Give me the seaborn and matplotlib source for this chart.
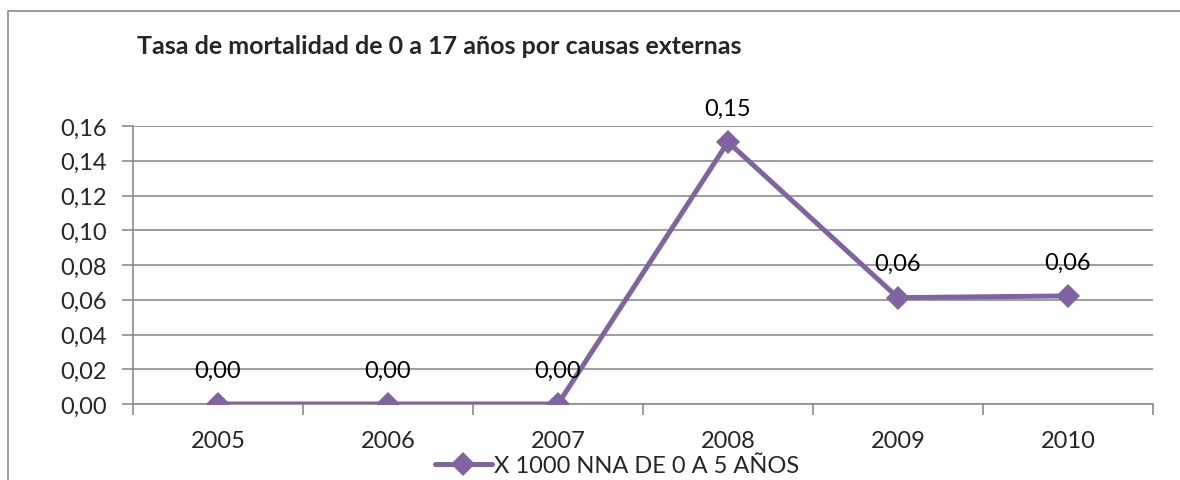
import numpy as np
import pandas as pd
import matplotlib
matplotlib.use('Agg')
import matplotlib.pyplot as plt
import seaborn as sns
from matplotlib.patches import Rectangle
from matplotlib.lines import Line2D

# data
years = [2005, 2006, 2007, 2008, 2009, 2010]
tasa = [0.0, 0.0, 0.0, 0.1508, 0.0612, 0.0622]
etiquetas = ['0,00', '0,00', '0,00', '0,15', '0,06', '0,06']
yticks = [0.00, 0.02, 0.04, 0.06, 0.08, 0.10, 0.12, 0.14, 0.16]
serie = 'X 1000 NNA DE 0 A 5 AÑOS'
titulo = 'Tasa de mortalidad de 0 a 17 años por causas externas'

df = pd.DataFrame({'anio': years, 'tasa': tasa})

sns.set_theme(style='white')
plt.rcParams['font.family'] = ['Lato', 'DejaVu Sans']

purple = '#8064A2'
grid = '#8C8C8C'
fs = 17

W, H = 1180, 481
fig = plt.figure(figsize=(W / 100, H / 100), dpi=100)
ax = fig.add_axes([133 / W, 1 - 405 / H, (1153 - 133) / W, (405 - 127) / H])

# outer chart frame (right and bottom run past the picture)
fig.patches.append(Rectangle((8 / W, -0.05), 1.2, 1 - 12 / H + 0.05,
                             transform=fig.transFigure, fill=False,
                             edgecolor='#8C8C8C', linewidth=1.2))

sns.lineplot(data=df, x='anio', y='tasa', ax=ax, color=purple, linewidth=3.6,
             marker='D', markersize=12.5, markeredgewidth=0, zorder=3,
             legend=False)

ax.set_xlim(2004.5, 2010.5)
ax.set_ylim(0, 0.16)
ax.set_yticks(yticks)
ax.set_yticklabels([f'{v:.2f}'.replace('.', ',') for v in yticks])
ax.set_xticks(years)
ax.set_xticklabels([str(y) for y in years])
ax.set_xticks(np.arange(2004.5, 2011, 1), minor=True)
ax.tick_params(axis='x', which='major', length=0, pad=19, labelsize=fs)
ax.tick_params(axis='x', which='minor', length=8, width=1.2, color=grid,
               direction='out', bottom=True)
ax.tick_params(axis='y', length=8, width=1.2, color=grid, direction='out',
               left=True, pad=11, labelsize=fs)
ax.yaxis.grid(True, color=grid, linewidth=1.2)
ax.set_axisbelow(True)
for s in ['top', 'right']:
    ax.spines[s].set_visible(False)
for s in ['left', 'bottom']:
    ax.spines[s].set_color(grid)
    ax.spines[s].set_linewidth(1.2)
ax.set_xlabel('')
ax.set_ylabel('')

for x, y, t in zip(years, tasa, etiquetas):
    ax.annotate(t, (x, y), xytext=(0, 34), textcoords='offset pixels',
                ha='center', va='center', fontsize=fs, color='black')

fig.text(137 / W, 1 - 47 / H, titulo, fontsize=18, fontweight='bold',
         ha='left', va='center')

handle = Line2D([], [], color=purple, linewidth=3.6, marker='D',
                markersize=12.5, markeredgewidth=0)
fig.legend([handle], [serie], loc='center', bbox_to_anchor=(617 / W, 1 - 467 / H),
           frameon=False, fontsize=fs, handlelength=2.4, handletextpad=0.1,
           borderpad=0)

fig.savefig('out.png', dpi=100)
